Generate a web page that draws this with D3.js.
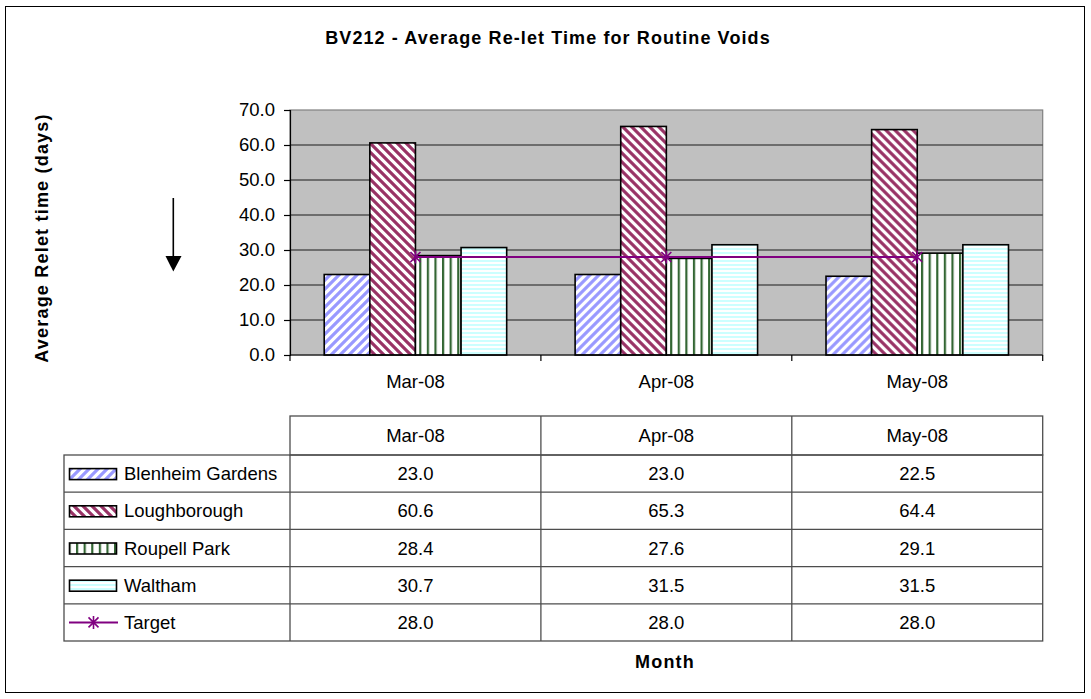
<!DOCTYPE html>
<html>
<head>
<meta charset="utf-8">
<script src="https://cdnjs.cloudflare.com/ajax/libs/d3/7.8.5/d3.min.js"></script>
<style>
  html, body { margin: 0; padding: 0; background: #fff; }
  svg { display: block; }
  text { font-family: "Liberation Sans", Arial, sans-serif; fill: #000; }
</style>
</head>
<body>
<svg id="chart" width="1091" height="699"></svg>
<script>
// ---------------- data ----------------
const categories = ["Mar-08", "Apr-08", "May-08"];
const seriesNames = ["Blenheim Gardens", "Loughborough", "Roupell Park", "Waltham"];
const blenheimGardens = [23.0, 23.0, 22.5];
const loughborough = [60.6, 65.3, 64.4];
const roupellPark = [28.4, 27.6, 29.1];
const waltham = [30.7, 31.5, 31.5];
const target = [28.0, 28.0, 28.0];
const yTickValues = [0, 10, 20, 30, 40, 50, 60, 70];
const titleText = "BV212 - Average Re-let Time for Routine Voids";
const yAxisTitle = "Average Relet time (days)";
const xAxisTitle = "Month";
const targetName = "Target";

const seriesValues = [blenheimGardens, loughborough, roupellPark, waltham];
const patternIds = ["pBlen", "pLough", "pRoup", "pWalt"];

// ---------------- layout ----------------
const svg = d3.select("#chart");
const plot = { left: 290, right: 1042.7, top: 110, bottom: 355 };
const table = { labelLeft: 64, headerTop: 416, rowTop: 455, bottom: 641 };
const FS = 18.5;

// outer border
svg.append("rect").attr("x", 5.5).attr("y", 6.5).attr("width", 1079).attr("height", 686)
  .attr("fill", "#fff").attr("stroke", "#000").attr("stroke-width", 1);

// patterns
const defs = svg.append("defs");
function diag(id, color, up) {
  const p = defs.append("pattern").attr("id", id).attr("patternUnits", "userSpaceOnUse")
    .attr("width", 9).attr("height", 9);
  p.append("rect").attr("width", 9).attr("height", 9).attr("fill", "#fff");
  const d = up ? "M-3,3 L3,-3 M0,9 L9,0 M6,12 L12,6" : "M-3,6 L3,12 M0,0 L9,9 M6,-3 L12,3";
  p.append("path").attr("d", d).attr("stroke", color).attr("stroke-width", 3.2);
}
diag("pBlen", "#9999FF", true);
diag("pLough", "#993366", false);
{
  const p = defs.append("pattern").attr("id", "pRoup").attr("patternUnits", "userSpaceOnUse")
    .attr("width", 7.6).attr("height", 8);
  p.append("rect").attr("width", 7.6).attr("height", 8).attr("fill", "#fff");
  p.append("rect").attr("x", 0).attr("width", 2.2).attr("height", 8).attr("fill", "#336633");
}
{
  const p = defs.append("pattern").attr("id", "pWalt").attr("patternUnits", "userSpaceOnUse")
    .attr("width", 8).attr("height", 4);
  p.append("rect").attr("width", 8).attr("height", 4).attr("fill", "#fff");
  p.append("rect").attr("y", 0).attr("width", 8).attr("height", 2).attr("fill", "#CCFFFF");
}

// scales
const x = d3.scaleBand().domain(categories).range([plot.left, plot.right]).padding(0);
const bw = x.bandwidth();
const barW = bw / 5.5;
const xs = d3.scaleBand().domain(seriesNames).range([0.75 * barW, bw - 0.75 * barW]).padding(0);
const y = d3.scaleLinear().domain([0, 70]).range([plot.bottom, plot.top]);

// title
svg.append("text").attr("x", 548).attr("y", 44).attr("text-anchor", "middle")
  .attr("font-size", 18).attr("font-weight", "bold").attr("letter-spacing", 1.1)
  .text(titleText);

// plot background
svg.append("rect").attr("x", plot.left).attr("y", plot.top)
  .attr("width", plot.right - plot.left).attr("height", plot.bottom - plot.top)
  .attr("fill", "#C0C0C0").attr("stroke", "#808080").attr("stroke-width", 1.2);

// gridlines
svg.append("g").selectAll("line").data(yTickValues.filter(v => v > 0 && v < 70)).join("line")
  .attr("x1", plot.left).attr("x2", plot.right)
  .attr("y1", d => y(d)).attr("y2", d => y(d))
  .attr("stroke", "#1a1a1a").attr("stroke-width", 1);

// y axis
const yAxis = d3.axisLeft(y).tickValues(yTickValues).tickFormat(d3.format(".1f")).tickSize(6).tickPadding(9);
const gy = svg.append("g").attr("transform", `translate(${plot.left},0)`).call(yAxis);
gy.select(".domain").attr("stroke", "#000").attr("stroke-width", 1.2);
gy.selectAll(".tick line").attr("stroke", "#000").attr("stroke-width", 1.2);
gy.selectAll(".tick text").attr("font-size", FS).attr("font-family", "Liberation Sans, Arial, sans-serif").attr("fill", "#000");

// bars
const groups = svg.append("g").selectAll("g").data(categories).join("g")
  .attr("transform", c => `translate(${x(c)},0)`);
groups.selectAll("rect").data((c, ci) => seriesNames.map((s, si) => ({ s, si, v: seriesValues[si][ci] })))
  .join("rect")
  .attr("x", d => xs(d.s)).attr("width", xs.bandwidth())
  .attr("y", d => y(d.v)).attr("height", d => y(0) - y(d.v))
  .attr("fill", d => `url(#${patternIds[d.si]})`)
  .attr("stroke", "#000").attr("stroke-width", 1.6);

// x axis
const gx = svg.append("g").attr("transform", `translate(0,${plot.bottom})`);
gx.append("line").attr("x1", plot.left).attr("x2", plot.right).attr("stroke", "#000").attr("stroke-width", 1.2);
const boundaries = categories.map(c => x(c)).concat([plot.right]);
gx.selectAll("line.tk").data(boundaries).join("line").attr("class", "tk")
  .attr("x1", d => d).attr("x2", d => d).attr("y1", 0).attr("y2", 6)
  .attr("stroke", "#000").attr("stroke-width", 1.2);
gx.selectAll("text").data(categories).join("text")
  .attr("x", c => x(c) + bw / 2).attr("y", 33).attr("text-anchor", "middle")
  .attr("font-size", FS).text(c => c);

// target line
const line = d3.line().x((d, i) => x(categories[i]) + bw / 2).y(d => y(d));
svg.append("path").datum(target).attr("d", line).attr("fill", "none")
  .attr("stroke", "#800080").attr("stroke-width", 2);
function star(g, cx, cy, r) {
  g.append("path").attr("d",
    `M${cx - r},${cy - r}L${cx + r},${cy + r}M${cx - r},${cy + r}L${cx + r},${cy - r}M${cx},${cy - r * 1.3}L${cx},${cy + r * 1.3}`)
    .attr("stroke", "#800080").attr("stroke-width", 1.6).attr("fill", "none");
}
const tg = svg.append("g");
target.forEach((v, i) => star(tg, x(categories[i]) + bw / 2, y(v), 5));

// y axis title
svg.append("text").attr("transform", "translate(48,238) rotate(-90)")
  .attr("text-anchor", "middle").attr("font-size", 18).attr("font-weight", "bold")
  .attr("letter-spacing", 1.2).text(yAxisTitle);

// arrow
svg.append("line").attr("x1", 173.3).attr("x2", 173.3).attr("y1", 198).attr("y2", 258)
  .attr("stroke", "#000").attr("stroke-width", 1.6);
svg.append("path").attr("d", "M165.5,256 L181.5,256 L173.3,271.5 Z").attr("fill", "#000");

// ---------------- data table ----------------
const rowNames = seriesNames.concat([targetName]);
const rowData = seriesValues.concat([target]);
const ry = d3.scaleBand().domain(rowNames).range([table.rowTop, table.bottom]).padding(0);
const tStroke = "#4d4d4d";
const tg2 = svg.append("g").attr("stroke", tStroke).attr("stroke-width", 1.3).attr("fill", "none");
// header row box
tg2.append("rect").attr("x", plot.left).attr("y", table.headerTop)
  .attr("width", plot.right - plot.left).attr("height", table.rowTop - table.headerTop);
// body box
tg2.append("rect").attr("x", table.labelLeft).attr("y", table.rowTop)
  .attr("width", plot.right - table.labelLeft).attr("height", table.bottom - table.rowTop);
// row lines
tg2.selectAll("line.r").data(rowNames.slice(1)).join("line").attr("class", "r")
  .attr("x1", table.labelLeft).attr("x2", plot.right)
  .attr("y1", d => ry(d)).attr("y2", d => ry(d));
// column lines
tg2.selectAll("line.c").data(boundaries.slice(0, 3)).join("line").attr("class", "c")
  .attr("x1", d => d).attr("x2", d => d)
  .attr("y1", (d, i) => i === 0 ? table.rowTop : table.headerTop).attr("y2", table.bottom);
// header text
svg.append("g").selectAll("text").data(categories).join("text")
  .attr("x", c => x(c) + bw / 2).attr("y", (table.headerTop + table.rowTop) / 2 + 6.5)
  .attr("text-anchor", "middle").attr("font-size", FS).text(c => c);
// cells
rowNames.forEach((rn, ri) => {
  svg.append("g").selectAll("text").data(rowData[ri]).join("text")
    .attr("x", (v, ci) => x(categories[ci]) + bw / 2)
    .attr("y", ry(rn) + ry.bandwidth() / 2 + 6.5)
    .attr("text-anchor", "middle").attr("font-size", FS)
    .text(v => d3.format(".1f")(v));
  // label
  svg.append("text").attr("x", 124).attr("y", ry(rn) + ry.bandwidth() / 2 + 6.5)
    .attr("font-size", FS).text(rn);
  const cy = ry(rn) + ry.bandwidth() / 2;
  if (ri < 4) {
    svg.append("rect").attr("x", 69.5).attr("y", cy - 5).attr("width", 47).attr("height", 11)
      .attr("fill", `url(#${patternIds[ri]})`).attr("stroke", "#000").attr("stroke-width", 1.6);
  } else {
    svg.append("line").attr("x1", 69).attr("x2", 118).attr("y1", cy).attr("y2", cy)
      .attr("stroke", "#800080").attr("stroke-width", 2);
    star(svg, 93.5, cy, 5);
  }
});

// x axis title
svg.append("text").attr("x", 665).attr("y", 668).attr("text-anchor", "middle")
  .attr("font-size", 18).attr("font-weight", "bold").attr("letter-spacing", 1.2).text(xAxisTitle);
</script>
</body>
</html>
